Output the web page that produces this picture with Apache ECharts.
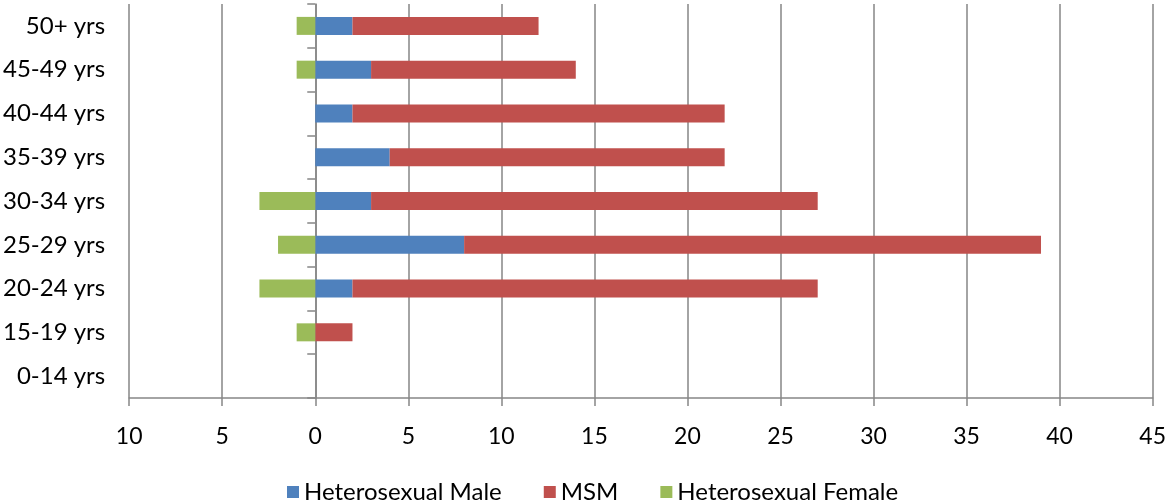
<!DOCTYPE html>
<html>
<head>
<meta charset="utf-8">
<script src="https://cdn.jsdelivr.net/npm/echarts@6/dist/echarts.min.js"></script>
<style>
html,body{margin:0;padding:0;background:#fff;}
#chart{width:1169px;height:501px;}
</style>
</head>
<body>
<div id="chart"></div>
<script>
var categories = ['0-14 yrs','15-19 yrs','20-24 yrs','25-29 yrs','30-34 yrs','35-39 yrs','40-44 yrs','45-49 yrs','50+ yrs'];
var heteroMale = [0, 0, 2, 8, 3, 4, 2, 3, 2];
var msm = [0, 2, 25, 31, 24, 18, 20, 11, 10];
var heteroFemale = [0, 1, 3, 2, 3, 0, 0, 1, 1]; // plotted to the left of zero
var xTicks = {min: -10, max: 45, interval: 5};

var FONT = 'Lato';
var GRAY = '#868686';
var chart = echarts.init(document.getElementById('chart'));
chart.setOption({
  animation: false,
  textStyle: {fontFamily: FONT},
  grid: {left: 129, right: 15, top: 4, bottom: 103, containLabel: false},
  legend: {
    left: 282, top: 475,
    itemWidth: 12, itemHeight: 12, itemGap: 42,
    icon: 'rect',
    textStyle: {fontSize: 24, color: '#000', fontFamily: FONT},
    data: ['Heterosexual Male','MSM','Heterosexual Female']
  },
  xAxis: {
    type: 'value', min: xTicks.min, max: xTicks.max, interval: xTicks.interval,
    axisLine: {show: true, onZero: false, lineStyle: {color: GRAY, width: 1.5}},
    axisTick: {show: true, length: 8, lineStyle: {color: GRAY, width: 1.5}},
    splitLine: {show: true, lineStyle: {color: GRAY, width: 1.5}},
    axisLabel: {fontSize: 23, color: '#000', margin: 27, fontFamily: FONT,
      formatter: function(v){ return String(Math.abs(v)); }}
  },
  yAxis: [{
    type: 'category', data: categories, position: 'left',
    axisLine: {show: false, onZero: false},
    axisTick: {show: false},
    axisLabel: {fontSize: 24, color: '#000', margin: 24, fontFamily: FONT}
  },{
    type: 'category', data: categories, position: 'left',
    axisLine: {show: true, onZero: true, lineStyle: {color: GRAY, width: 1.5}},
    axisTick: {show: true, length: 8, lineStyle: {color: GRAY, width: 1.5}},
    axisLabel: {show: false}
  }],
  series: [
    {name: 'Heterosexual Male', type: 'bar', stack: 'a', barWidth: 18, data: heteroMale,
      itemStyle: {color: '#4F81BD'}},
    {name: 'MSM', type: 'bar', stack: 'a', barWidth: 18, data: msm,
      itemStyle: {color: '#C0504D'}},
    {name: 'Heterosexual Female', type: 'bar', stack: 'a', barWidth: 18,
      data: heteroFemale.map(function(v){ return -v; }),
      itemStyle: {color: '#9BBB59'}}
  ]
});
</script>
</body>
</html>
